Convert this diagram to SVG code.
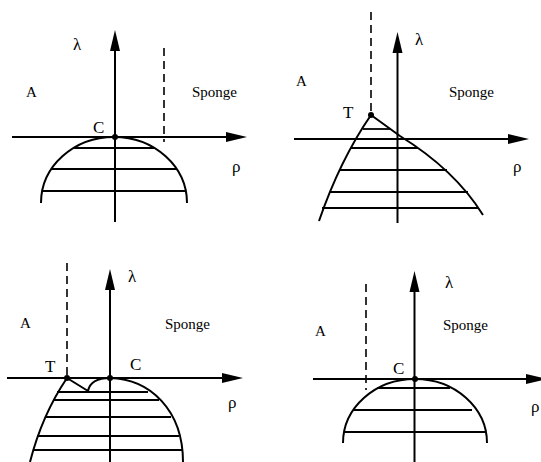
<svg xmlns="http://www.w3.org/2000/svg" width="541" height="462" viewBox="0 0 541 462">
<style>
.ax{stroke:#000;stroke-width:2;fill:none}
.cv{stroke:#000;stroke-width:2;fill:none}
.h{stroke:#000;stroke-width:1.8;fill:none}
.d{stroke:#000;stroke-width:1.6;fill:none;stroke-dasharray:8 5}
.ah{fill:#000;stroke:none}
.dot{fill:#000}
.lb{font-size:15px}
.gk{font-size:17px}
.pt{font-size:17px}
</style>
<rect width="541" height="462" fill="#fff"/>
<g id="connectors">
<line class="ax" x1="115" y1="222" x2="115" y2="48"/>
<polygon class="ah" points="115,30 110,51 120,51"/>
<line class="ax" x1="12" y1="137" x2="230" y2="137"/>
<polygon class="ah" points="247,137 226,132 226,142"/>
<line class="d" x1="164" y1="48" x2="164" y2="142"/>
<line class="ax" x1="397.5" y1="223" x2="397.5" y2="50"/>
<polygon class="ah" points="397.5,32 392.5,53 402.5,53"/>
<line class="ax" x1="294" y1="139" x2="512" y2="139"/>
<polygon class="ah" points="529,139 508,134 508,144"/>
<line class="d" x1="371" y1="12" x2="371" y2="115"/>
<line class="ax" x1="110" y1="462" x2="110" y2="287"/>
<polygon class="ah" points="110,269 105,290 115,290"/>
<line class="ax" x1="7" y1="378" x2="226" y2="378"/>
<polygon class="ah" points="243,378 222,373 222,383"/>
<line class="d" x1="67" y1="263" x2="67" y2="378"/>
<line class="ax" x1="414.5" y1="462" x2="414.5" y2="289"/>
<polygon class="ah" points="414.5,271 409.5,292 419.5,292"/>
<line class="ax" x1="313" y1="379" x2="530" y2="379"/>
<polygon class="ah" points="547,379 526,374 526,384"/>
<line class="d" x1="366" y1="284" x2="366" y2="390"/>
</g>
<g id="panel1" font-family="Liberation Serif, DejaVu Serif, serif">
<path class="cv" d="M41,203 A73,66 0 0 1 187,203"/>
<line class="h" x1="73" y1="148" x2="155" y2="148"/>
<line class="h" x1="51" y1="169" x2="177" y2="169"/>
<line class="h" x1="42" y1="191" x2="186" y2="191"/>
<circle class="dot" cx="115" cy="137" r="3"/>
<text class="gk" x="73" y="50">λ</text>
<text class="lb" x="26" y="97">A</text>
<text class="lb" x="192" y="97">Sponge</text>
<text class="pt" x="93" y="133">C</text>
<text class="gk" x="232" y="172">ρ</text>
</g>
<g id="panel2" font-family="Liberation Serif, DejaVu Serif, serif">
<path class="cv" d="M371,115 Q340,160 319,221"/>
<path class="cv" d="M371,115 L400,136 Q455,170 483,215"/>
<line class="h" x1="363" y1="129" x2="390" y2="129"/>
<line class="h" x1="351" y1="148" x2="418" y2="148"/>
<line class="h" x1="339" y1="170" x2="447" y2="170"/>
<line class="h" x1="330" y1="192" x2="468" y2="192"/>
<line class="h" x1="322" y1="208" x2="478" y2="208"/>
<circle class="dot" cx="371" cy="115" r="3"/>
<text class="gk" x="415" y="45">λ</text>
<text class="lb" x="296" y="86">A</text>
<text class="lb" x="449" y="97">Sponge</text>
<text class="pt" x="343" y="118">T</text>
<text class="gk" x="513" y="172">ρ</text>
</g>
<g id="panel3" font-family="Liberation Serif, DejaVu Serif, serif">
<path class="cv" d="M67,378 Q42,415 30,462"/>
<path class="cv" d="M67,378 L88,391 C90,381 98,378 110,378 C150,379 183,410 183,462"/>
<line class="h" x1="57" y1="392" x2="148" y2="392"/>
<line class="h" x1="53" y1="400" x2="159" y2="400"/>
<line class="h" x1="45" y1="417" x2="171" y2="417"/>
<line class="h" x1="37" y1="436" x2="179" y2="436"/>
<line class="h" x1="33" y1="450" x2="182" y2="450"/>
<circle class="dot" cx="67" cy="378" r="3"/>
<circle class="dot" cx="110" cy="378" r="3"/>
<text class="gk" x="128" y="282">λ</text>
<text class="lb" x="20" y="328">A</text>
<text class="lb" x="165" y="329">Sponge</text>
<text class="pt" x="45" y="372">T</text>
<text class="pt" x="130" y="370">C</text>
<text class="gk" x="228" y="408">ρ</text>
</g>
<g id="panel4" font-family="Liberation Serif, DejaVu Serif, serif">
<path class="cv" d="M343,443 A72,64 0 0 1 487,443"/>
<line class="h" x1="377" y1="388" x2="450" y2="388"/>
<line class="h" x1="353" y1="410" x2="472" y2="410"/>
<line class="h" x1="344" y1="432" x2="486" y2="432"/>
<circle class="dot" cx="415" cy="379" r="3"/>
<text class="gk" x="445" y="288">λ</text>
<text class="lb" x="315" y="336">A</text>
<text class="lb" x="443" y="330">Sponge</text>
<text class="pt" x="393" y="374">C</text>
<text class="gk" x="531" y="412">ρ</text>
</g>
</svg>
